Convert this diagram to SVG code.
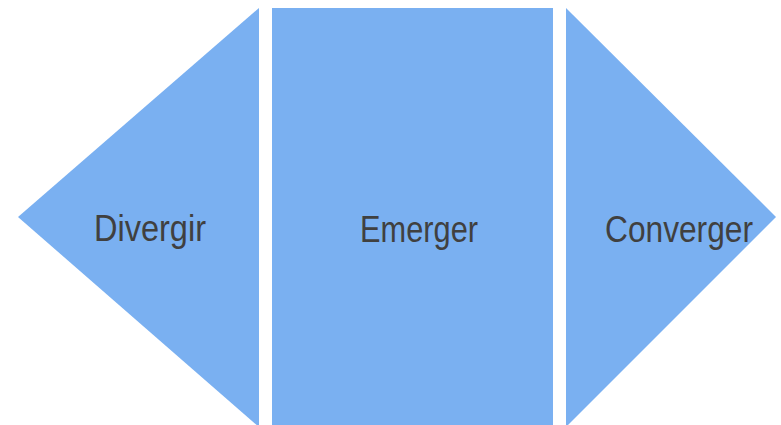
<svg xmlns="http://www.w3.org/2000/svg" width="781" height="425" viewBox="0 0 781 425">
  <style>
    .shape { fill: #7AB0F1; }
    .label { font-family: "Liberation Sans", Arial, sans-serif; font-size: 36px; fill: #404040; }
  </style>
  <rect width="781" height="425" fill="#ffffff"/>
  <g id="divergir">
    <polygon class="shape" points="18,217 259,8 259,427"/>
    <text class="label" x="94" y="241" textLength="112" lengthAdjust="spacingAndGlyphs">Divergir</text>
  </g>
  <g id="emerger">
    <rect class="shape" x="272" y="8" width="281" height="420"/>
    <text class="label" x="360" y="242" textLength="118" lengthAdjust="spacingAndGlyphs">Emerger</text>
  </g>
  <g id="converger">
    <polygon class="shape" points="566,8 776,217 566,427"/>
    <text class="label" x="605" y="242" textLength="148" lengthAdjust="spacingAndGlyphs">Converger</text>
  </g>
  <g id="connectors"/>
</svg>
